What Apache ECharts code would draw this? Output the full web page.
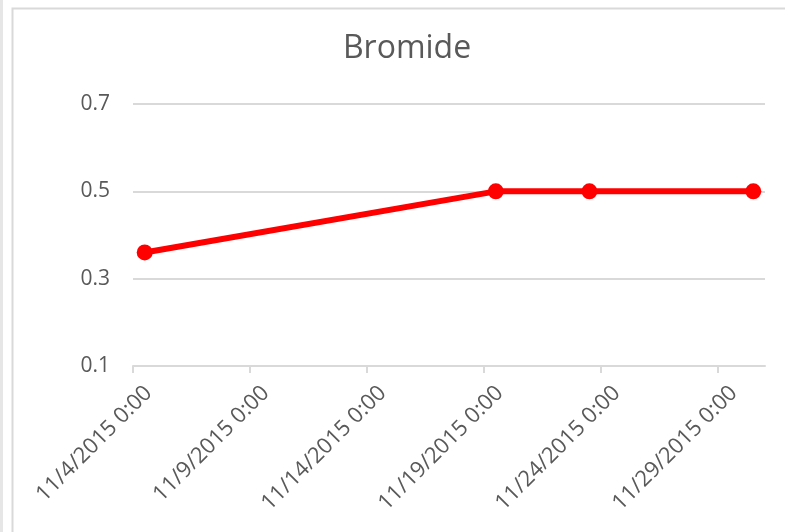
<!DOCTYPE html>
<html>
<head>
<meta charset="utf-8">
<title>Bromide</title>
<script src="https://cdn.jsdelivr.net/npm/echarts@6/dist/echarts.min.js"></script>
<style>
  html, body { margin: 0; padding: 0; background: #fff; }
  #chart { width: 785px; height: 532px; }
</style>
</head>
<body>
<div id="chart"></div>
<script>
// sample times and bromide readings
const sampleTimes = ['2015-11-04T12:00', '2015-11-19T12:00', '2015-11-23T12:00', '2015-11-30T12:00'];
const bromide = [0.36, 0.5, 0.5, 0.5];
// date axis: ticks every 5 days
const tickDates = ['2015-11-04', '2015-11-09', '2015-11-14', '2015-11-19', '2015-11-24', '2015-11-29'];
const axisStart = '2015-11-04';
const axisEnd = '2015-12-01';

function toMs(s) {                                              // treat all as UTC
    return new Date(s.length === 10 ? s + 'T00:00Z' : s + 'Z').getTime();
}
function fmtDate(ms) {
    const d = new Date(ms);
    return (d.getUTCMonth() + 1) + '/' + d.getUTCDate() + '/' + d.getUTCFullYear() + ' '
        + d.getUTCHours() + ':' + String(d.getUTCMinutes()).padStart(2, '0');
}

const textColor = '#595959';
const gridColor = '#d9d9d9';
const font = '"Open Sans", "Noto Sans", sans-serif';

let myChart = echarts.init(document.getElementById('chart'), null, { renderer: 'canvas' });
let option = {
    backgroundColor: '#fff',
    animation: false,
    title: {
        text: 'Bromide',
        left: 402,
        top: 28,
        textAlign: 'center',
        textStyle: { color: textColor, fontFamily: font, fontSize: 32, fontWeight: 'normal' }
    },
    graphic: [
        { type: 'rect', left: 0, top: 0, shape: { width: 3, height: 532 }, style: { fill: '#e6e6e6' }, silent: true },
        { type: 'rect', left: 10, top: 6, shape: { width: 800, height: 600 }, style: { fill: 'none', stroke: gridColor, lineWidth: 2 }, silent: true }
    ],
    grid: { left: 133, right: 20, top: 104, bottom: 166 },
    xAxis: {
        type: 'value',
        min: toMs(axisStart),
        max: toMs(axisEnd),
        splitLine: { show: false },
        axisLine: { show: true, lineStyle: { color: gridColor, width: 2 } },
        axisTick: {
            show: true, length: 7, inside: false,
            lineStyle: { color: gridColor, width: 2 },
            customValues: tickDates.map(toMs)
        },
        axisLabel: {
            customValues: tickDates.map(toMs),
            rotate: 45,
            margin: 8,
            verticalAlign: 'top',
            padding: [11, 0, 0, 0],
            color: textColor,
            fontFamily: font,
            fontSize: 22,
            formatter: v => fmtDate(v)
        }
    },
    yAxis: {
        type: 'value',
        min: 0.1,
        max: 0.7,
        interval: 0.2,
        axisLine: { show: false },
        axisTick: { show: false },
        splitLine: { lineStyle: { color: gridColor, width: 2 } },
        axisLabel: {
            margin: 23,
            color: textColor,
            fontFamily: font,
            fontSize: 21,
            formatter: v => v.toFixed(1)
        }
    },
    series: [{
        name: 'Bromide',
        type: 'line',
        data: sampleTimes.map((t, i) => [toMs(t), bromide[i]]),
        symbol: 'circle',
        symbolSize: 16,
        lineStyle: { color: '#ff0000', width: 6 },
        itemStyle: { color: '#ff0000' }
    }]
};
myChart.setOption(option);
window.addEventListener('resize', () => { myChart.resize(); });
</script>
</body>
</html>
